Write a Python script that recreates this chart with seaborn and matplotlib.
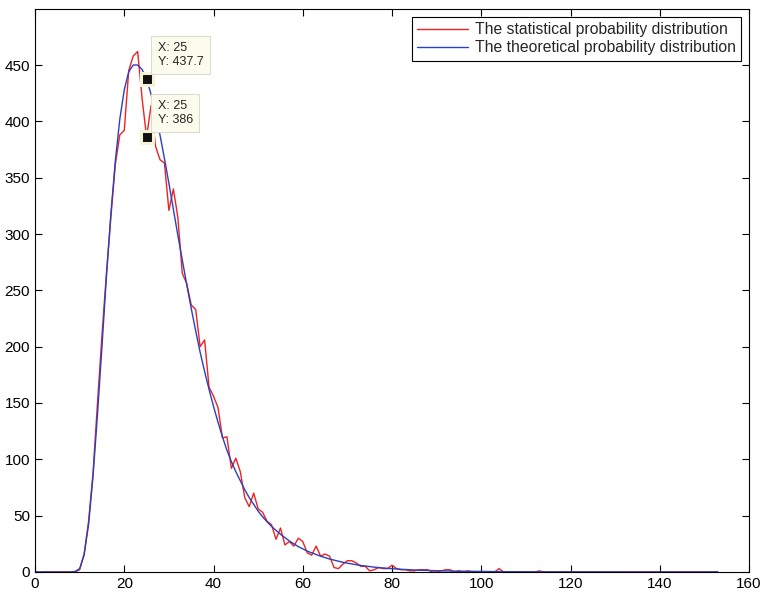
import numpy as np
import pandas as pd
import matplotlib
matplotlib.use("Agg")
import matplotlib.pyplot as plt
import seaborn as sns

# x grid of the distribution (integer bins 0..153)
x_vals = np.arange(0, 154)

# statistical (simulated) counts
statistical = [
    0, 0, 0, 0, 0, 0, 0, 0, 0, 0,
    2, 16, 45, 88, 150, 210, 265, 315, 362, 388,
    392, 445, 458, 462, 420, 386, 414, 378, 366, 363,
    321, 340, 315, 265, 256, 237, 233, 200, 206, 164,
    156, 146, 119, 120, 92, 101, 89, 66, 58, 70,
    56, 53, 45, 42, 29, 39, 24, 27, 23, 30,
    27, 17, 15, 23, 14, 16, 14, 4, 3, 7,
    10, 10, 8, 5, 5, 1, 2, 4, 3, 3,
    6, 3, 2, 2, 1, 1, 2, 2, 2, 0,
    0, 1, 2, 2, 0, 1, 0, 1, 0, 0,
    0, 0, 0, 0, 3, 0, 0, 0, 0, 0,
    0, 0, 0, 1, 0, 0, 0, 0, 0, 0,
    0, 0, 0, 0, 0, 0, 0, 0, 0, 0,
    0, 0, 0, 0, 0, 0, 0, 0, 0, 0,
    0, 0, 0, 0, 0, 0, 0, 0, 0, 0,
    0, 0, 0, 0,
]

# theoretical curve
theoretical = [
    0, 0, 0, 0, 0, 0, 0, 0, 0, 0.5,
    3, 15, 42, 85, 140, 200, 262, 318, 365, 402,
    428, 444, 450, 450, 446, 437.7, 424, 407, 388, 367,
    345, 322, 299, 277, 255, 234, 214, 195, 178, 162,
    147, 133, 120, 108, 98, 89, 81, 73, 66, 60,
    54, 49, 44.5, 40.5, 37, 33.5, 30.5, 27.5, 25, 22.5,
    20.5, 18.5, 17, 15.5, 14, 12.7, 11.5, 10.5, 9.5, 8.6,
    7.8, 7.1, 6.4, 5.8, 5.3, 4.8, 4.3, 3.9, 3.6, 3.2,
    2.9, 2.7, 2.4, 2.2, 2.0, 1.8, 1.6, 1.5, 1.4, 1.25,
    1.1, 1.0, 0.9, 0.8, 0.75, 0.7, 0.6, 0.55, 0.5, 0.45,
    0.4, 0.35, 0.33, 0.3, 0.28, 0.25, 0.23, 0.2, 0.19, 0.17,
    0.15, 0.14, 0.13, 0.12, 0.11, 0.1, 0.09, 0.08, 0.08, 0.07,
    0.06, 0.06, 0.05, 0.05, 0.05, 0.04, 0.04, 0.04, 0.03, 0.03,
    0.03, 0.03, 0.02, 0.02, 0.02, 0.02, 0.02, 0.02, 0.02, 0.02,
    0.02, 0.01, 0.01, 0.01, 0.01, 0.01, 0.01, 0.01, 0.01, 0.01,
    0.01, 0.01, 0.01, 0.01,
]

series_names = ["The statistical probability distribution",
                "The theoretical probability distribution"]
series_colors = ["#ee2222", "#2b3fbf"]

# data tips
tip_x = [25, 25]
tip_y = [437.7, 386]
tip_labels = ["X: 25\nY: 437.7", "X: 25\nY: 386"]

sns.set_style("ticks")
plt.rcParams['font.family'] = ['Liberation Sans', 'DejaVu Sans']

df = pd.DataFrame({"x": x_vals,
                   series_names[0]: statistical,
                   series_names[1]: theoretical})
long_df = df.melt(id_vars="x", var_name="series", value_name="y")

fig = plt.figure(figsize=(7.63, 5.99), dpi=100)
ax = fig.add_axes([0.0459, 0.0451, 0.9358, 0.9404])

sns.lineplot(data=long_df, x="x", y="y", hue="series",
             palette=dict(zip(series_names, series_colors)),
             linewidth=1, ax=ax)

ax.set_xlim(0, 160)
ax.set_ylim(0, 500)
ax.set_xticks(range(0, 161, 20))
ax.set_yticks(range(0, 451, 50))
ax.set_xlabel("")
ax.set_ylabel("")
ax.tick_params(direction="in", top=True, right=True, length=5, width=0.8,
               labelsize=11, colors="black")
for sp in ax.spines.values():
    sp.set_color("black")
    sp.set_linewidth(0.8)

leg = ax.legend(loc="upper right", fontsize=11.3, frameon=True, fancybox=False,
                edgecolor="black", framealpha=1, handlelength=3.2,
                borderpad=0.35, labelspacing=0.2, handletextpad=0.45,
                borderaxespad=0.5)
leg.get_frame().set_linewidth(0.8)

# data tip markers and labels
ax.plot(tip_x, tip_y, "s", ms=8, mfc="#111111", mec="#f4f4d8", mew=2.2, zorder=6)
for tx, ty, lab in zip(tip_x, tip_y, tip_labels):
    ax.annotate(lab, xy=(tx, ty), xytext=(8, 8), textcoords="offset points",
                ha="left", va="bottom", fontsize=9, linespacing=1.2,
                bbox=dict(boxstyle="square,pad=0.5", fc="#fbfbee", ec="#dcdccb",
                          lw=0.8), zorder=7)

fig.savefig("out.png", dpi=100)
